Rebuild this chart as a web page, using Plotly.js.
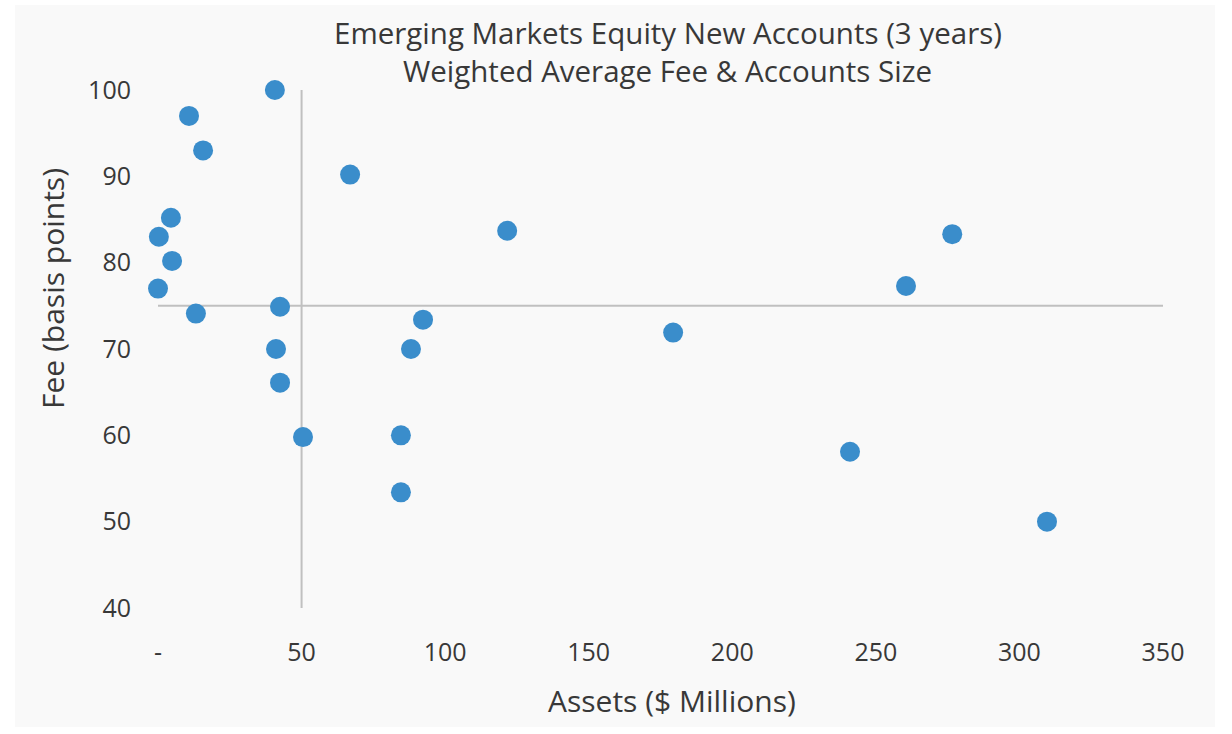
<!DOCTYPE html>
<html>
<head>
<meta charset="utf-8">
<script src="https://cdn.plot.ly/plotly-3.0.1.min.js"></script>
<style>
  html, body { margin: 0; padding: 0; background: #ffffff; }
  #chart { position: absolute; left: 15px; top: 5px; width: 1200px; height: 722px; }
</style>
</head>
<body>
<div id="chart"></div>
<script>
// ---- data ----
const assets = [40.7, 10.8, 15.7, 66.9, 4.5, 0.3, 121.6, 276.6, 4.9, 0, 260.5, 42.5, 13.2, 92.3, 179.4, 41.1, 88.1, 42.5, 50.5, 84.6, 241.0, 84.6, 309.6];
const fees   = [100, 97.0, 93.0, 90.2, 85.2, 83.0, 83.7, 83.3, 80.2, 77.0, 77.3, 74.9, 74.1, 73.4, 71.9, 70.0, 70.0, 66.1, 59.8, 60.0, 58.1, 53.4, 50.0];
const avgAssets = 50;
const avgFee = 75;
const xTickVals = [0, 50, 100, 150, 200, 250, 300, 350];
const xTickText = ["-", "50", "100", "150", "200", "250", "300", "350"];
const yTickVals = [40, 50, 60, 70, 80, 90, 100];
const xRange = [0, 350];
const yRange = [40, 100];
const titleLines = ["Emerging Markets Equity New Accounts (3 years)", "Weighted Average Fee & Accounts Size"];
const xTitle = "Assets ($ Millions)";
const yTitle = "Fee (basis points)";

const FONT = "'Open Sans', Lato, sans-serif";
const TXT = "#383838";
const LINE = "#c0c0c0";

const traces = [
  { x: [avgAssets, avgAssets], y: yRange, mode: "lines", line: { color: LINE, width: 2 }, hoverinfo: "skip", showlegend: false },
  { x: xRange, y: [avgFee, avgFee], mode: "lines", line: { color: LINE, width: 2 }, hoverinfo: "skip", showlegend: false },
  { x: assets, y: fees, mode: "markers", type: "scatter", cliponaxis: false,
    marker: { size: 20, color: "#3a8dcb" }, showlegend: false }
];

const layout = {
  width: 1200, height: 722,
  paper_bgcolor: "#f9f9f9", plot_bgcolor: "#f9f9f9",
  margin: { l: 143, r: 52, t: 85, b: 119 },
  font: { family: FONT, color: TXT },
  showlegend: false,
  xaxis: {
    range: xRange, tickvals: xTickVals, ticktext: xTickText,
    showgrid: false, zeroline: false, showline: false, ticks: "",
    ticklabelstandoff: 27, tickfont: { size: 25, color: TXT, family: FONT }
  },
  yaxis: {
    range: yRange, tickvals: yTickVals,
    showgrid: false, zeroline: false, showline: false, ticks: "",
    ticklabelstandoff: 26, tickfont: { size: 25, color: TXT, family: FONT }
  },
  annotations: [
    { text: titleLines[0], xref: "paper", yref: "paper", x: 0.507, y: (608 - 32) / 518, xanchor: "center", yanchor: "middle", showarrow: false, font: { size: 29.5, color: TXT, family: FONT } },
    { text: titleLines[1], xref: "paper", yref: "paper", x: 0.507, y: (608 - 70) / 518, xanchor: "center", yanchor: "middle", showarrow: false, font: { size: 29.5, color: TXT, family: FONT } },
    { text: xTitle, xref: "paper", yref: "paper", x: 0.511, y: (608 - 700) / 518, xanchor: "center", yanchor: "middle", showarrow: false, font: { size: 30, color: TXT, family: FONT } },
    { text: yTitle, xref: "paper", yref: "paper", x: (52 - 158) / 1005, y: (608 - 289) / 518, xanchor: "center", yanchor: "middle", textangle: -90, showarrow: false, font: { size: 30, color: TXT, family: FONT } }
  ]
};

Plotly.newPlot("chart", traces, layout, { displayModeBar: false, staticPlot: true });
</script>
</body>
</html>
